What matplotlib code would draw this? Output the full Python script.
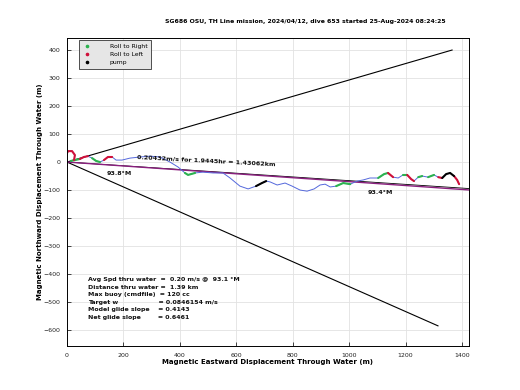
import matplotlib
matplotlib.use("Agg")
import matplotlib.pyplot as plt
from matplotlib.lines import Line2D

# ---- data (meters) ----
track_x = [0, -4, 4, 18, 28, 25, 14, 28, 46, 60, 74, 89, 103, 117, 131, 145, 160, 174, 195,
           223, 259, 294, 330, 365, 394, 418, 429, 454, 482, 518, 553, 578, 613, 642, 670,
           691, 706, 720, 745, 773, 798, 826, 851, 876, 897, 915, 933, 954, 979, 1004, 1028,
           1050, 1074, 1103, 1124, 1138, 1156, 1174, 1191, 1206, 1220, 1230, 1245, 1259, 1280,
           1301, 1316, 1330, 1344, 1358, 1372, 1383, 1390]
track_y = [0, 25, 39, 39, 25, 7, 4, 7, 11, 18, 21, 14, 4, 0, 7, 18, 18, 7, 7,
           14, 18, 21, 18, 0, -18, -39, -46, -39, -36, -39, -39, -57, -86, -96, -86,
           -75, -68, -71, -82, -75, -86, -100, -104, -96, -82, -79, -89, -86, -75, -79, -68,
           -64, -57, -57, -43, -39, -54, -57, -46, -46, -61, -68, -54, -50, -54,
           -46, -54, -57, -43, -39, -50, -64, -79]

# index ranges (inclusive) of the track flagged by roll / pump state
roll_right = [(6, 8), (11, 13), (25, 27), (47, 49), (53, 55), (58, 59), (62, 63), (64, 65)]
roll_left = [(1, 5), (8, 10), (14, 16), (55, 56), (59, 61), (66, 67), (70, 72)]
pump = [(34, 36), (67, 70)]

upper_x, upper_y = [0, 1365], [0, 400]
lower_x, lower_y = [0, 1315], [0, -585]
heading_x, heading_y = [0, 1430], [0, -95]
purple_x, purple_y = [0, 1430], [0, -100]

summary_lines = [
    "Avg Spd thru water  =  0.20 m/s @  93.1 \u00b0M",
    "Distance thru water =  1.39 km",
    "Max buoy (cmdfile)  = 120 cc",
    "Target w                   = 0.0846154 m/s",
    "Model glide slope    = 0.4143",
    "Net glide slope        = 0.6461",
]
xticks = [0, 200, 400, 600, 800, 1000, 1200, 1400]
yticks = [-600, -500, -400, -300, -200, -100, 0, 100, 200, 300, 400]

title = "SG686 OSU, TH Line mission, 2024/04/12, dive 653 started 25-Aug-2024 08:24:25"

# ---- figure ----
fig = plt.figure(figsize=(5.2, 3.9), dpi=100)
ax = fig.add_axes([67 / 520, 44 / 390, 402 / 520, 308 / 390])
ax.set_xlim(0, 1425)
ax.set_ylim(-657, 443)

ax.grid(True, color="#e2e2e2", lw=0.6)
ax.set_axisbelow(True)

ax.plot(upper_x, upper_y, color="black", lw=0.8)
ax.plot(lower_x, lower_y, color="black", lw=0.8)
ax.plot(heading_x, heading_y, color="black", lw=0.6)
ax.plot(purple_x, purple_y, color="#8a1f7e", lw=1.0)

ax.plot(track_x, track_y, color="#5468dc", lw=0.7)

def draw_segments(ranges, color):
    for a, b in ranges:
        ax.plot(track_x[a:b + 1], track_y[a:b + 1], color=color, lw=1.5,
                solid_capstyle="round")

draw_segments(roll_right, "#2cb34f")
draw_segments(roll_left, "#d0103a")
draw_segments(pump, "black")

ax.text(248, 8, "0.20432m/s for 1.9445hr = 1.43062km", fontsize=4.6, fontweight="bold",
        rotation=-3, rotation_mode="anchor", ha="left", va="bottom", color="#111111")
ax.text(142, -40, "93.8\u00b0M", fontsize=4.6, fontweight="bold", ha="left", va="center",
        color="#111111")
ax.text(1067, -110, "93.4\u00b0M", fontsize=4.6, fontweight="bold", ha="left", va="center",
        color="#111111")

for i, s in enumerate(summary_lines):
    ax.text(75, -420 - i * 27, s, fontsize=4.5, fontweight="bold", ha="left",
            va="center", color="#111111")

ax.set_xticks(xticks)
ax.set_yticks(yticks)
ax.tick_params(direction="in", labelsize=4.5, length=3, width=0.5, labelcolor="#222222",
               pad=5)
for sp in ax.spines.values():
    sp.set_linewidth(0.7)

ax.set_xlabel("Magnetic Eastward Displacement Through Water (m)", fontsize=5,
              fontweight="bold", labelpad=1)
ax.set_ylabel("Magnetic Northward Displacement Through Water (m)", fontsize=5,
              fontweight="bold", labelpad=0)

fig.text(305 / 520, 1 - 22 / 390, title, fontsize=4.4, fontweight="bold", ha="center",
         va="center")

handles = [
    Line2D([], [], ls="none", marker="o", ms=1.6, color="#2cb34f"),
    Line2D([], [], ls="none", marker="o", ms=1.6, color="#d0103a"),
    Line2D([], [], ls="none", marker="o", ms=1.6, color="black"),
]
leg = ax.legend(handles, ["Roll to Right", "Roll to Left", "pump"], loc="upper left",
                bbox_to_anchor=(10 / 402, 1.0), fontsize=4.4, frameon=True, fancybox=False,
                borderpad=0.6, handletextpad=3, labelspacing=0.5, handlelength=1.5,
                borderaxespad=0.3)
leg.get_frame().set_facecolor("#e6e6e6")
leg.get_frame().set_edgecolor("#333333")
leg.get_frame().set_linewidth(0.6)
leg.get_frame().set_alpha(1)

fig.savefig("out.png", dpi=100)
